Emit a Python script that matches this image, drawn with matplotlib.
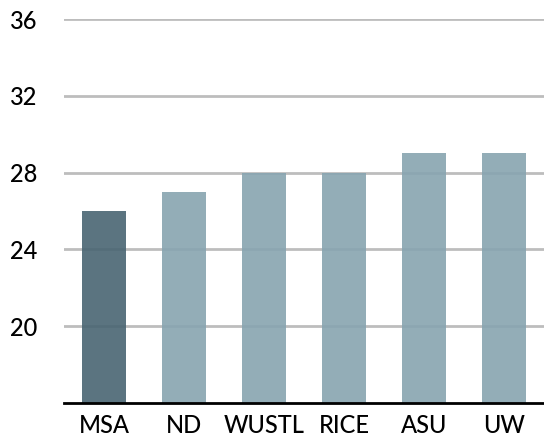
import matplotlib
matplotlib.use('Agg')
import matplotlib.pyplot as plt

schools = ['MSA', 'ND', 'WUSTL', 'RICE', 'ASU', 'UW']
scores = [26, 27, 28, 28, 29, 29]
bar_colors = ['#496572', '#87a4b0', '#87a4b0', '#87a4b0', '#87a4b0', '#87a4b0']
y_ticks = [20, 24, 28, 32, 36]

plt.rcParams['font.family'] = ['Lato', 'DejaVu Sans']

fig = plt.figure(figsize=(5.44, 4.40), dpi=100)
ax = fig.add_axes([64 / 544, 37 / 440, 480 / 544, 384 / 440])

ax.bar(range(len(schools)), scores, width=0.54, color=bar_colors, alpha=0.9,
       zorder=3)
ax.set_xlim(-0.5, len(schools) - 0.5)
ax.set_ylim(16, 36)
ax.set_yticks(y_ticks)
ax.set_xticks(range(len(schools)))
ax.set_xticklabels(schools)
ax.yaxis.grid(True, color='#bdbdbd', linewidth=2, zorder=0)
ax.set_axisbelow(True)

for side in ['top', 'right', 'left']:
    ax.spines[side].set_visible(False)
ax.spines['bottom'].set_linewidth(2)
ax.spines['bottom'].set_color('black')
ax.spines['bottom'].set_zorder(4)
ax.tick_params(axis='both', length=0, labelsize=17, colors='black')
ax.tick_params(axis='y', pad=39)
ax.tick_params(axis='x', pad=8)
for lbl in ax.get_yticklabels() + ax.get_xticklabels():
    lbl.set_fontweight('medium')
for lbl in ax.get_yticklabels():
    lbl.set_horizontalalignment('left')

fig.savefig('out.png', dpi=100)
